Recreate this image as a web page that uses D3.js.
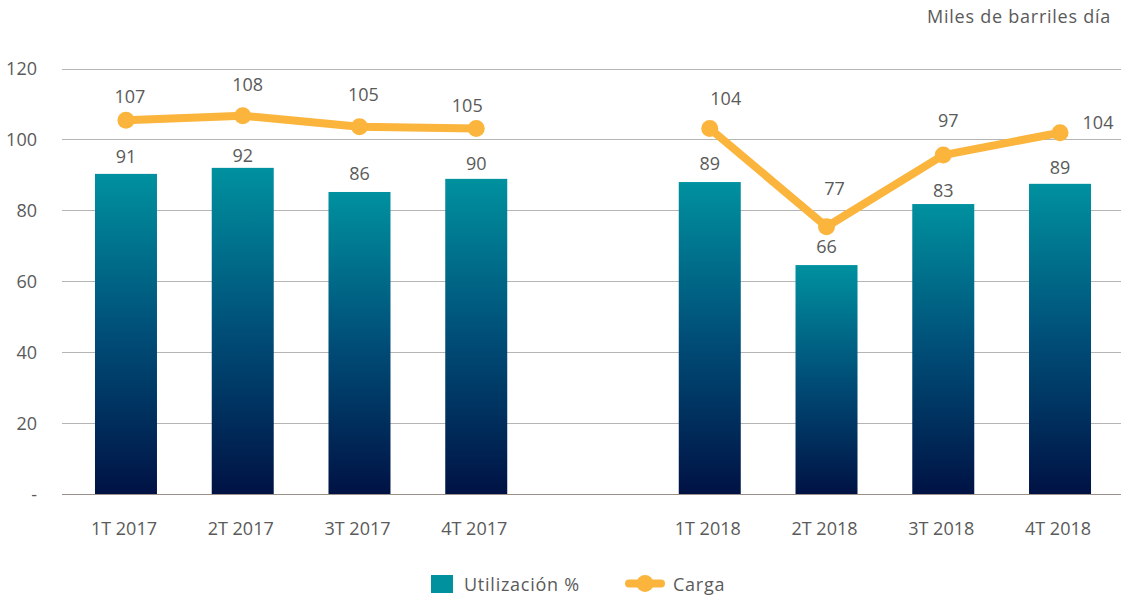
<!DOCTYPE html>
<html>
<head>
<meta charset="utf-8">
<script src="https://cdn.jsdelivr.net/npm/d3@7"></script>
<style>
  html, body { margin: 0; padding: 0; background: #fff; }
  svg { display: block; font-family: "Open Sans", Roboto, "Noto Sans", sans-serif; }
</style>
</head>
<body>
<svg id="chart" width="1121" height="599"></svg>
<script>
// ---- data ----
const categories = ["1T 2017", "2T 2017", "3T 2017", "4T 2017", "", "1T 2018", "2T 2018", "3T 2018", "4T 2018"];
const utilizacion = [90.3, 92.0, 85.2, 88.9, null, 88.0, 64.6, 81.8, 87.5];
const utilizacionLabels = ["91", "92", "86", "90", null, "89", "66", "83", "89"];
const carga = [105.4, 106.7, 103.6, 103.1, null, 103.1, 75.4, 95.6, 101.9];
const cargaLabels = ["107", "108", "105", "105", null, "104", "77", "97", "104"];
const yTicks = [0, 20, 40, 60, 80, 100, 120];
const seriesNames = ["Utilización %", "Carga"];
const unitTitle = "Miles de barriles día";

// label placement (layout only)
const cargaLabelOffsets = [[4, -17], [5, -25], [4, -26], [-9, -16], null, [16, -23], [8, -32], [5, -28], [38, -4]];
const utilLabelGaps = [11, 6, 12, 9, null, 12, 12, 7, 10];

// ---- layout ----
const svg = d3.select("#chart");
const textColor = "#5a5a5a";
const fontSize = 18;

const x = d3.scaleBand()
  .domain(categories.map((c, i) => i))
  .range([67.6, 1118.4])
  .paddingInner(0.469)
  .paddingOuter(0.2345);

const y = d3.scaleLinear().domain([0, 120]).range([494.3, 68.5]);

// gradient
const defs = svg.append("defs");
const grad = defs.append("linearGradient")
  .attr("id", "barGrad").attr("x1", 0).attr("y1", 0).attr("x2", 0).attr("y2", 1);
grad.append("stop").attr("offset", "0%").attr("stop-color", "#00919F");
grad.append("stop").attr("offset", "50%").attr("stop-color", "#004E78");
grad.append("stop").attr("offset", "100%").attr("stop-color", "#001244");

// gridlines + y labels
const gridLeft = 62, gridRight = 1121;
svg.append("g").selectAll("line")
  .data(yTicks.filter(t => t !== 0))
  .join("line")
  .attr("x1", gridLeft).attr("x2", gridRight)
  .attr("y1", d => Math.round(y(d)) + 0.5).attr("y2", d => Math.round(y(d)) + 0.5)
  .attr("stroke", "#b5b5b5").attr("stroke-width", 1);

svg.append("g").selectAll("text")
  .data(yTicks)
  .join("text")
  .attr("x", 37).attr("y", d => y(d))
  .attr("dy", "0.36em")
  .attr("text-anchor", "end")
  .attr("font-size", fontSize)
  .attr("fill", textColor)
  .text(d => d === 0 ? "-" : d);

// bars
const barData = categories.map((c, i) => ({ i, v: utilizacion[i], label: utilizacionLabels[i] })).filter(d => d.v != null);
svg.append("g").selectAll("rect")
  .data(barData)
  .join("rect")
  .attr("x", d => x(d.i))
  .attr("width", x.bandwidth())
  .attr("y", d => y(d.v))
  .attr("height", d => y(0) - y(d.v))
  .attr("fill", "url(#barGrad)");

// baseline
svg.append("line")
  .attr("x1", gridLeft).attr("x2", gridRight)
  .attr("y1", Math.round(y(0)) + 0.5).attr("y2", Math.round(y(0)) + 0.5)
  .attr("stroke", "#9b8f8a").attr("stroke-width", 1.2);

// bar labels
svg.append("g").selectAll("text")
  .data(barData)
  .join("text")
  .attr("x", d => x(d.i) + x.bandwidth() / 2)
  .attr("y", d => y(d.v) - utilLabelGaps[d.i])
  .attr("text-anchor", "middle")
  .attr("font-size", fontSize)
  .attr("fill", textColor)
  .text(d => d.label);

// x labels
svg.append("g").selectAll("text")
  .data(categories.map((c, i) => ({ c, i })).filter(d => d.c !== ""))
  .join("text")
  .attr("x", d => x(d.i) + x.bandwidth() / 2 - 2)
  .attr("y", 535)
  .attr("text-anchor", "middle")
  .attr("font-size", fontSize)
  .attr("fill", textColor)
  .text(d => d.c);

// line
const lineColor = "#FBB43C";
const lineData = categories.map((c, i) => ({ i, v: carga[i], label: cargaLabels[i] }));
const line = d3.line()
  .defined(d => d.v != null)
  .x(d => x(d.i) + x.bandwidth() / 2)
  .y(d => y(d.v));
svg.append("path")
  .datum(lineData)
  .attr("d", line)
  .attr("fill", "none")
  .attr("stroke", lineColor)
  .attr("stroke-width", 8)
  .attr("stroke-linejoin", "round");

const pts = lineData.filter(d => d.v != null);
svg.append("g").selectAll("circle")
  .data(pts)
  .join("circle")
  .attr("cx", d => x(d.i) + x.bandwidth() / 2)
  .attr("cy", d => y(d.v))
  .attr("r", 8.5)
  .attr("fill", lineColor);

svg.append("g").selectAll("text")
  .data(pts)
  .join("text")
  .attr("x", d => x(d.i) + x.bandwidth() / 2 + cargaLabelOffsets[d.i][0])
  .attr("y", d => y(d.v) + cargaLabelOffsets[d.i][1])
  .attr("text-anchor", "middle")
  .attr("font-size", fontSize)
  .attr("fill", textColor)
  .text(d => d.label);

// unit title
svg.append("text")
  .attr("x", 1111).attr("y", 23)
  .attr("text-anchor", "end")
  .attr("font-size", fontSize)
  .attr("letter-spacing", 0.75)
  .attr("fill", textColor)
  .text(unitTitle);

// legend
const lg = svg.append("g");
lg.append("rect").attr("x", 431).attr("y", 575).attr("width", 22).attr("height", 18).attr("fill", "#00919F");
lg.append("text").attr("x", 464).attr("y", 591).attr("font-size", fontSize).attr("letter-spacing", 0.75).attr("fill", textColor).text(seriesNames[0]);
lg.append("line").attr("x1", 629).attr("x2", 661).attr("y1", 583.5).attr("y2", 583.5)
  .attr("stroke", lineColor).attr("stroke-width", 8).attr("stroke-linecap", "round");
lg.append("circle").attr("cx", 645).attr("cy", 583.5).attr("r", 8.5).attr("fill", lineColor);
lg.append("text").attr("x", 673).attr("y", 591).attr("font-size", fontSize).attr("letter-spacing", 0.75).attr("fill", textColor).text(seriesNames[1]);
</script>
</body>
</html>
